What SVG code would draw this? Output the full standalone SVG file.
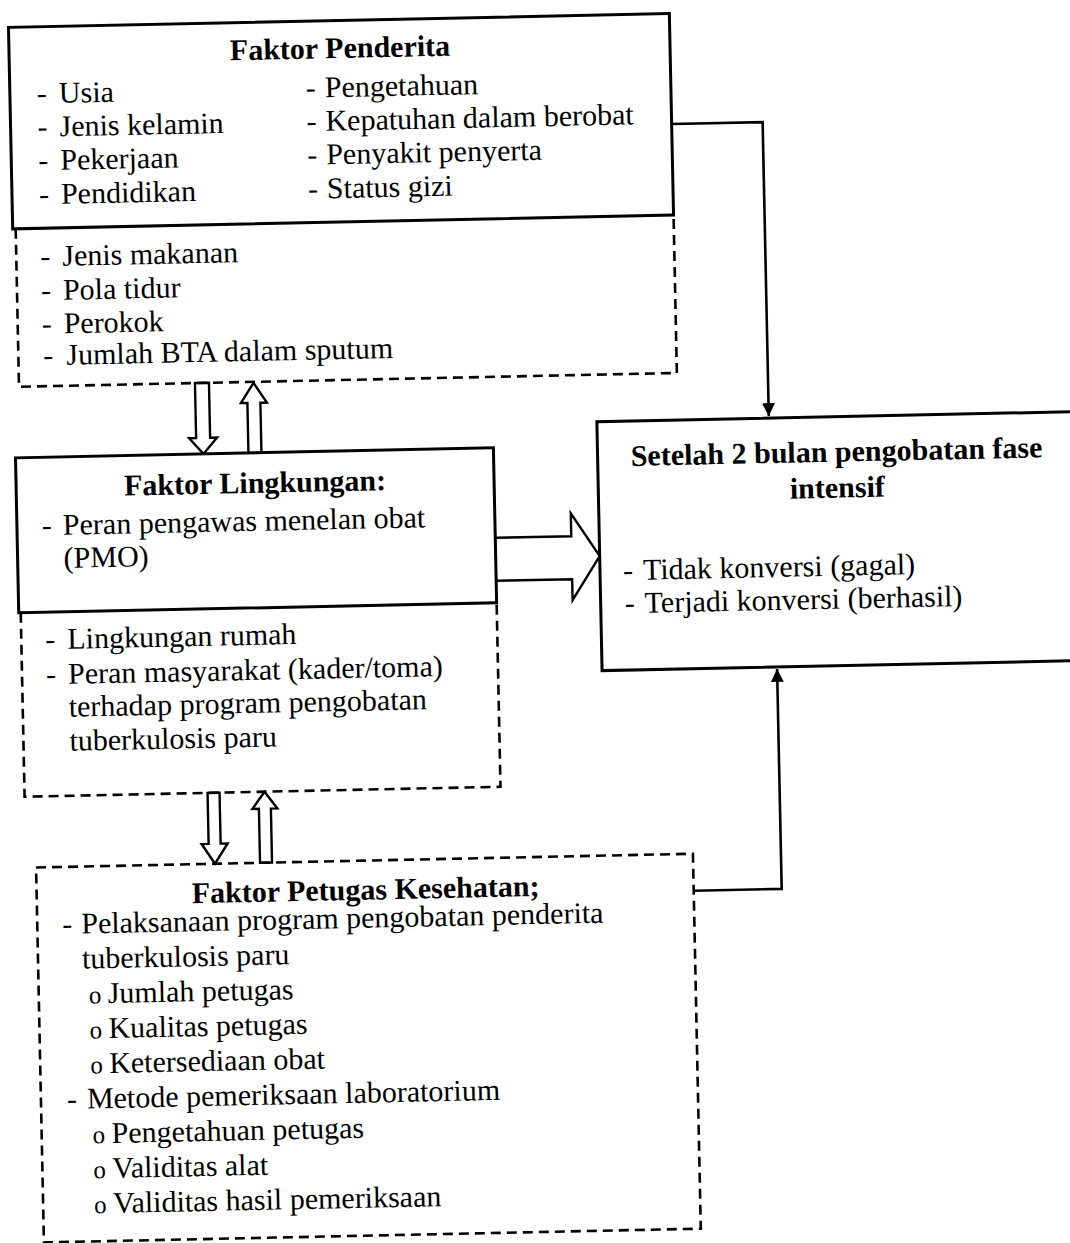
<svg xmlns="http://www.w3.org/2000/svg" width="1070" height="1243" viewBox="0 0 1070 1243">
<style>
.solid{fill:#fff;stroke:#000;stroke-width:3}
.dash{fill:none;stroke:#000;stroke-width:2.6;stroke-dasharray:10 6}
.conn{fill:none;stroke:#000;stroke-width:2.6}
.hollow{fill:#fff;stroke:#000;stroke-width:2.4;stroke-linejoin:miter}
.t{font-family:"Liberation Serif","Times New Roman",serif;font-size:30px;fill:#000}
.b{font-weight:bold}
.o{font-size:25px}
</style>
<defs>
<marker id="ah" viewBox="0 0 10 10" refX="10" refY="5" markerUnits="userSpaceOnUse" markerWidth="15" markerHeight="13" orient="auto">
<path d="M0,0 L10,5 L0,10 z" fill="#000"/>
</marker>
</defs>
<rect width="1070" height="1243" fill="#fff"/>
<g transform="rotate(-1.2 535 620)">
<g id="connectors">
<path class="conn" d="M682,127 H773 V421" marker-end="url(#ah)"/>
<path class="conn" d="M688,894 H776 V674" marker-end="url(#ah)"/>
<path class="hollow" d="M497,537 H573 V514 L601,557.5 L573,601 V580 H497"/>
<polygon class="hollow" points="200,376 214,376 214,431 221,431 207,447 193,431 200,431"/>
<polygon class="hollow" points="252,447 265,447 265,397 271.5,397 258.5,377 245.5,397 252,397"/>
<polygon class="hollow" points="204,786 216,786 216,837 223,837 210,857 197,837 204,837"/>
<polygon class="hollow" points="255,857 267,857 267,803 273.5,803 261,786 248.5,803 255,803"/>
</g>
<g id="faktor-penderita">
<rect class="solid" x="21" y="16.5" width="661" height="201.5"/>
<path class="dash" d="M24,218 V376 H682 V218"/>
<text class="t b" x="352" y="54" text-anchor="middle">Faktor Penderita</text>
<text class="t" y="93"><tspan x="48">-</tspan><tspan x="70">Usia</tspan></text>
<text class="t" y="126.5"><tspan x="48">-</tspan><tspan x="70">Jenis kelamin</tspan></text>
<text class="t" y="160"><tspan x="48">-</tspan><tspan x="70">Pekerjaan</tspan></text>
<text class="t" y="194"><tspan x="48">-</tspan><tspan x="70">Pendidikan</tspan></text>
<text class="t" y="93"><tspan x="317">-</tspan><tspan x="336">Pengetahuan</tspan></text>
<text class="t" y="126.5"><tspan x="317">-</tspan><tspan x="336">Kepatuhan dalam berobat</tspan></text>
<text class="t" y="160"><tspan x="317">-</tspan><tspan x="336">Penyakit penyerta</tspan></text>
<text class="t" y="194"><tspan x="317">-</tspan><tspan x="336">Status gizi</tspan></text>
<text class="t" y="256"><tspan x="48">-</tspan><tspan x="70">Jenis makanan</tspan></text>
<text class="t" y="290"><tspan x="48">-</tspan><tspan x="70">Pola tidur</tspan></text>
<text class="t" y="323.5"><tspan x="48">-</tspan><tspan x="70">Perokok</tspan></text>
<text class="t" y="355"><tspan x="49">-</tspan><tspan x="72">Jumlah BTA dalam sputum</tspan></text>
</g>
<g id="faktor-lingkungan">
<rect class="solid" x="19" y="447" width="478" height="155"/>
<path class="dash" d="M21,602 V786 H497 V602"/>
<text class="t b" x="258" y="487" text-anchor="middle">Faktor Lingkungan:</text>
<text class="t" y="525"><tspan x="44">-</tspan><tspan x="65">Peran pengawas menelan obat</tspan></text>
<text class="t" x="65" y="558">(PMO)</text>
<text class="t" y="639"><tspan x="45">-</tspan><tspan x="67">Lingkungan rumah</tspan></text>
<text class="t" y="674"><tspan x="45">-</tspan><tspan x="67">Peran masyarakat (kader/toma)</tspan></text>
<text class="t" x="67" y="707">terhadap program pengobatan</text>
<text class="t" x="67" y="741">tuberkulosis paru</text>
</g>
<g id="hasil">
<rect class="solid" x="601" y="423" width="490" height="249"/>
<text class="t b" x="840" y="468" text-anchor="middle">Setelah 2 bulan pengobatan fase</text>
<text class="t b" x="840" y="504" text-anchor="middle">intensif</text>
<text class="t" y="582"><tspan x="624">-</tspan><tspan x="644">Tidak konversi (gagal)</tspan></text>
<text class="t" y="615"><tspan x="625">-</tspan><tspan x="645">Terjadi konversi (berhasil)</tspan></text>
</g>
<g id="faktor-petugas">
<rect class="dash" x="31" y="857" width="657" height="375"/>
<text class="t b" x="360" y="896" text-anchor="middle">Faktor Petugas Kesehatan;</text>
<text class="t" y="924"><tspan x="56">-</tspan><tspan x="75">Pelaksanaan program pengobatan penderita</tspan></text>
<text class="t" x="75" y="959">tuberkulosis paru</text>
<text class="t" y="994"><tspan class="o" x="81">o</tspan><tspan x="100">Jumlah petugas</tspan></text>
<text class="t" y="1029"><tspan class="o" x="81">o</tspan><tspan x="100">Kualitas petugas</tspan></text>
<text class="t" y="1064"><tspan class="o" x="81">o</tspan><tspan x="100">Ketersediaan obat</tspan></text>
<text class="t" y="1099"><tspan x="57">-</tspan><tspan x="77">Metode pemeriksaan laboratorium</tspan></text>
<text class="t" y="1134"><tspan class="o" x="82">o</tspan><tspan x="101">Pengetahuan petugas</tspan></text>
<text class="t" y="1169"><tspan class="o" x="82">o</tspan><tspan x="101">Validitas alat</tspan></text>
<text class="t" y="1204"><tspan class="o" x="82">o</tspan><tspan x="101">Validitas hasil pemeriksaan</tspan></text>
</g>
</g>
</svg>
